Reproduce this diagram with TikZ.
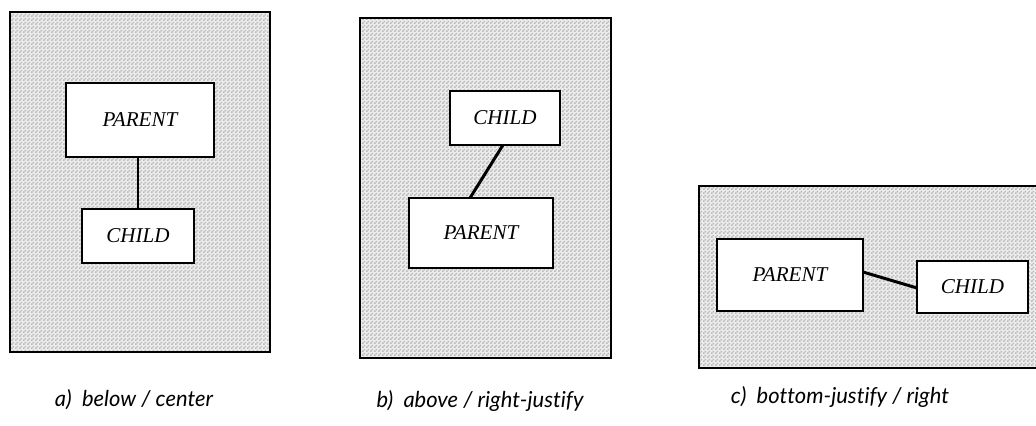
\documentclass[tikz,border=0pt]{standalone}
\usepackage{fontspec}
\setmainfont{Liberation Serif}
\newfontfamily\capfont[Ligatures=NoCommon]{Lato}
\usetikzlibrary{patterns}

% fine stipple used for the panel backgrounds
\pgfdeclarepatternformonly{stipple}{\pgfpointorigin}{\pgfpoint{2pt}{2pt}}{\pgfpoint{2pt}{2pt}}{%
  \pgfpathrectangle{\pgfpointorigin}{\pgfpoint{1pt}{1pt}}%
  \pgfpathrectangle{\pgfpoint{1pt}{1pt}}{\pgfpoint{1pt}{1pt}}%
  \pgfusepath{fill}}

\tikzset{
  panel/.style={fill=gray!14, postaction={pattern=stipple, pattern color=gray!55},
                postaction={draw=black, line width=1.4pt}},
  box/.style={draw=black, line width=1.7pt, fill=white, inner sep=0pt,
              font=\fontsize{12}{14}\selectfont\itshape},
  link/.style={draw=black, line width=1.7pt},
  caption/.style={font=\capfont\fontsize{12.5}{15}\selectfont\itshape, anchor=base}
}

\begin{document}
\begin{tikzpicture}[x=0.02cm, y=-0.02cm]
\useasboundingbox (0,0) rectangle (1036,426);
\clip (0,0) rectangle (1036,426);

% panel a: below / center
\path[panel] (10,12) rectangle (270,352);
\node[box, minimum width=148*0.02cm, minimum height=74*0.02cm] (pa) at (140,120) {PARENT};
\node[box, minimum width=112*0.02cm, minimum height=54*0.02cm] (ca) at (138,236) {CHILD};
\draw[link, line width=1.3pt] (pa.south -| ca.north) -- (ca.north);
\node[caption] (capa) at (134,406) {a)\ \ below / center};

% panel b: above / right-justify
\path[panel] (360,18) rectangle (611,358);
\node[box, minimum width=110*0.02cm, minimum height=54*0.02cm] (cb) at (505,118) {CHILD};
\node[box, minimum width=144*0.02cm, minimum height=70*0.02cm] (pb) at (481,233) {PARENT};
\coordinate (cbl) at (503,145);
\coordinate (pbl) at (470,198);
\draw[link] (cbl) -- (pbl);
\node[caption] (capb) at (480,407) {b)\ \ above / right-justify};

% panel c: bottom-justify / right
\path[panel] (699,186) rectangle (1045,368);
\node[box, minimum width=146*0.02cm, minimum height=72*0.02cm] (pc) at (790,275) {PARENT};
\node[box, minimum width=111*0.02cm, minimum height=52*0.02cm] (cc) at (972.5,287) {CHILD};
\coordinate (pcl) at (863,272);
\coordinate (ccl) at (917,288);
\draw[link] (pcl) -- (ccl);
\node[caption] (capc) at (840,403) {c)\ \ bottom-justify / right};
\end{tikzpicture}
\end{document}
